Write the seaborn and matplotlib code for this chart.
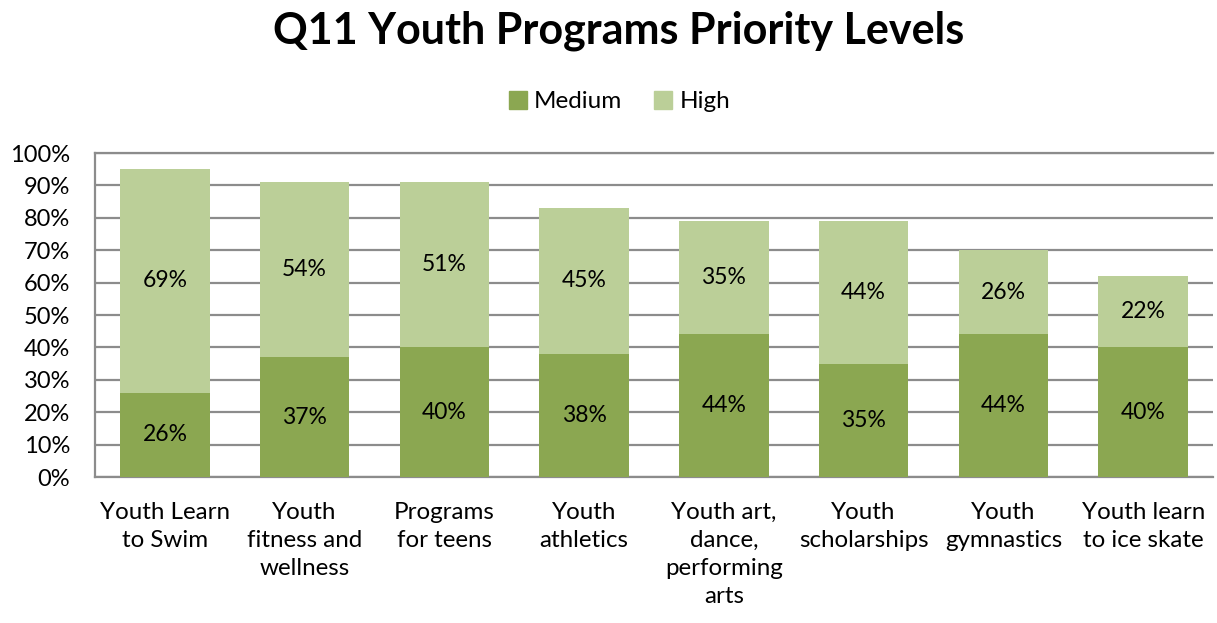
import matplotlib
matplotlib.use("Agg")
import matplotlib.pyplot as plt
import seaborn as sns
import pandas as pd
from matplotlib.patches import Patch

categories = [
    "Youth Learn\nto Swim",
    "Youth\nfitness and\nwellness",
    "Programs\nfor teens",
    "Youth\nathletics",
    "Youth art,\ndance,\nperforming\narts",
    "Youth\nscholarships",
    "Youth\ngymnastics",
    "Youth learn\nto ice skate",
]
medium = [26, 37, 40, 38, 44, 35, 44, 40]
high = [69, 54, 51, 45, 35, 44, 26, 22]
y_ticks = [0, 10, 20, 30, 40, 50, 60, 70, 80, 90, 100]

MEDIUM_COLOR = "#8BA751"
HIGH_COLOR = "#BBCF98"
GRID_COLOR = "#8C8C8C"

sns.set_theme(style="white")
plt.rcParams["font.family"] = ["Lato", "DejaVu Sans"]
plt.rcParams["text.color"] = "black"
plt.rcParams["xtick.color"] = "black"
plt.rcParams["ytick.color"] = "black"

df = pd.DataFrame({"category": categories, "medium": medium, "high": high})
df["total"] = df["medium"] + df["high"]

fig = plt.figure(figsize=(12.17, 6.23), dpi=100)
ax = fig.add_axes([95 / 1217, 1 - 477 / 623, 1118 / 1217, 324 / 623])

# stacked bars: full total in the light colour, medium share drawn over it
sns.barplot(data=df, x="category", y="total", color=HIGH_COLOR, width=0.64,
            saturation=1, ax=ax, zorder=3, linewidth=0)
sns.barplot(data=df, x="category", y="medium", color=MEDIUM_COLOR, width=0.64,
            saturation=1, ax=ax, zorder=3, linewidth=0)

for i, (m, h) in enumerate(zip(medium, high)):
    ax.text(i, m / 2, f"{m}%", ha="center", va="center", fontsize=16.5,
            color="black", zorder=4)
    ax.text(i, m + h / 2, f"{h}%", ha="center", va="center", fontsize=16.5,
            color="black", zorder=4)

ax.set_ylim(0, 100)
ax.set_xlim(-0.5, len(categories) - 0.5)
ax.set_yticks(y_ticks)
ax.set_yticklabels([f"{t}%" for t in y_ticks], fontsize=17)
ax.tick_params(axis="y", length=0, pad=18)
ax.tick_params(axis="x", length=0, pad=18, labelsize=17.4)
for lab in ax.get_xticklabels():
    lab.set_linespacing(1.42)
ax.set_xlabel("")
ax.set_ylabel("")

ax.yaxis.grid(True, color=GRID_COLOR, linewidth=1.6, zorder=0)
ax.set_axisbelow(True)
ax.spines["right"].set_visible(False)
for side in ["left", "bottom", "top"]:
    ax.spines[side].set_color(GRID_COLOR)
    ax.spines[side].set_linewidth(1.6)

fig.text(0.508, 0.950, "Q11 Youth Programs Priority Levels", ha="center",
         va="center", fontsize=31, fontweight="bold", color="black")

handles = [Patch(color=MEDIUM_COLOR, label="Medium"),
           Patch(color=HIGH_COLOR, label="High")]
fig.legend(handles=handles, loc="center", bbox_to_anchor=(0.509, 0.837),
           ncol=2, frameon=False, fontsize=17.5, handlelength=0.75,
           handleheight=0.75, handletextpad=0.3, columnspacing=1.3)

fig.savefig("out.png", dpi=100)
